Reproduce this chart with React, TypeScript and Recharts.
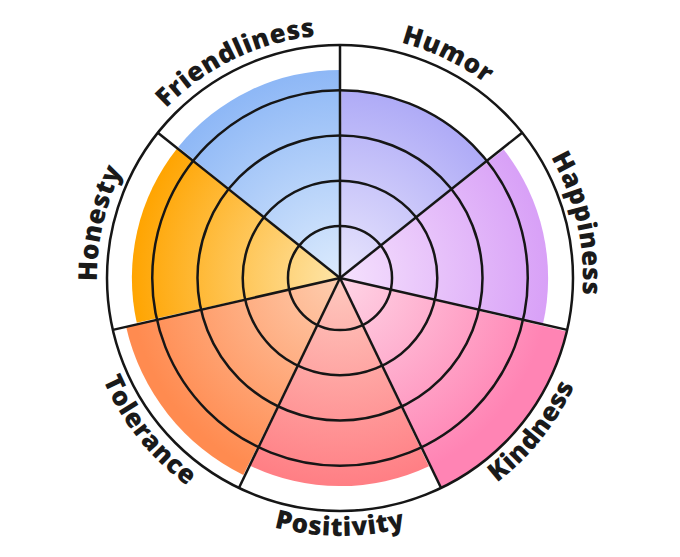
import React from 'react';
import {
  RadialBarChart,
  RadialBar,
  PolarAngleAxis,
  PolarRadiusAxis,
  PolarGrid,
  Cell,
  Sector,
} from 'recharts';

// ---- data ----
const categories = ['Humor', 'Happiness', 'Kindness', 'Positivity', 'Tolerance', 'Honesty', 'Friendliness'];
const scores = [80, 89, 100, 89, 94, 89, 89];
const gridLevels = [20, 40, 60, 80, 100];
const outerColors = ['#a8a4f6', '#d8a0f7', '#ff84b4', '#ff7e84', '#ff8b50', '#ffa400', '#8db7f6'];
const innerColors = ['#e9e6fd', '#f5e1fd', '#fed5e6', '#fec9bf', '#fecdaf', '#fee5a8', '#dcebfd'];

const data = categories.map((name, i) => ({ name, score: scores[i] }));

// ---- layout ----
const W = 680;
const H = 557;
const CX = 340;
const CY = 278;
const R = 233;
const FONT = '"Open Sans", "Noto Sans", sans-serif';
const BAND = 360 / categories.length;
const START = 90 - BAND;

const boundaries = categories.map((_, i) => 90 - i * BAND);

function CurvedTick(props: any) {
  const { payload, index } = props;
  const cx = props.cx ?? CX;
  const cy = props.cy ?? CY;
  const angle = payload.coordinate + BAND / 2;
  const rad = (d: number) => (d * Math.PI) / 180;
  const pt = (r: number, d: number) => [cx + r * Math.cos(rad(d)), cy - r * Math.sin(rad(d))];
  const flip = Math.sin(rad(angle)) < -0.01;
  const r = flip ? R + 25 : R + 10;
  const span = 80;
  let d: string;
  if (!flip) {
    const [x1, y1] = pt(r, angle + span);
    const [x2, y2] = pt(r, angle - span);
    d = `M${x1},${y1} A${r},${r} 0 0 1 ${x2},${y2}`;
  } else {
    const [x1, y1] = pt(r, angle - span);
    const [x2, y2] = pt(r, angle + span);
    d = `M${x1},${y1} A${r},${r} 0 0 0 ${x2},${y2}`;
  }
  const id = `curved-label-${index}`;
  return (
    <g>
      <path id={id} d={d} fill="none" stroke="none" />
      <text
        fontFamily={FONT}
        fontWeight={800}
        fontSize={26}
        letterSpacing={0.6}
        fill="#1a1a1a"
      >
        <textPath href={`#${id}`} startOffset="50%" textAnchor="middle">
          {payload.value}
        </textPath>
      </text>
    </g>
  );
}

function RoseSector(props: any) {
  return <Sector {...props} innerRadius={0} stroke="none" />;
}

export default function App() {
  return (
    <div style={{ position: 'absolute', left: 0, top: 0, width: W, height: H, background: '#fff' }}>
      <RadialBarChart
        width={W}
        height={H}
        cx={CX}
        cy={CY}
        innerRadius={0}
        outerRadius={R}
        startAngle={START}
        endAngle={START - 360}
        layout="centric"
        data={data}
        barCategoryGap={0}
        barGap={0}
        margin={{ top: 0, right: 0, bottom: 0, left: 0 }}
      >
        <defs>
          {categories.map((c, i) => (
            <radialGradient
              key={c}
              id={`grad-${i}`}
              gradientUnits="userSpaceOnUse"
              cx={CX}
              cy={CY}
              r={R * 0.9}
            >
              <stop offset="0%" stopColor={innerColors[i]} />
              <stop offset="100%" stopColor={outerColors[i]} />
            </radialGradient>
          ))}
        </defs>
        <PolarAngleAxis
          type="category"
          dataKey="name"
          axisLine={false}
          tickLine={false}
          tick={<CurvedTick />}
        />
        <PolarRadiusAxis
          type="number"
          domain={[-3, 100]}
          ticks={gridLevels}
          tick={false}
          axisLine={false}
        />
        <RadialBar dataKey="score" isAnimationActive={false} shape={RoseSector}>
          {data.map((d, i) => (
            <Cell key={d.name} fill={`url(#grad-${i})`} />
          ))}
        </RadialBar>
        <PolarGrid
          gridType="circle"
          polarAngles={boundaries}
          stroke="#161616"
          strokeWidth={2.5}
          strokeOpacity={1}
          zIndex={1000}
        />
      </RadialBarChart>
    </div>
  );
}
